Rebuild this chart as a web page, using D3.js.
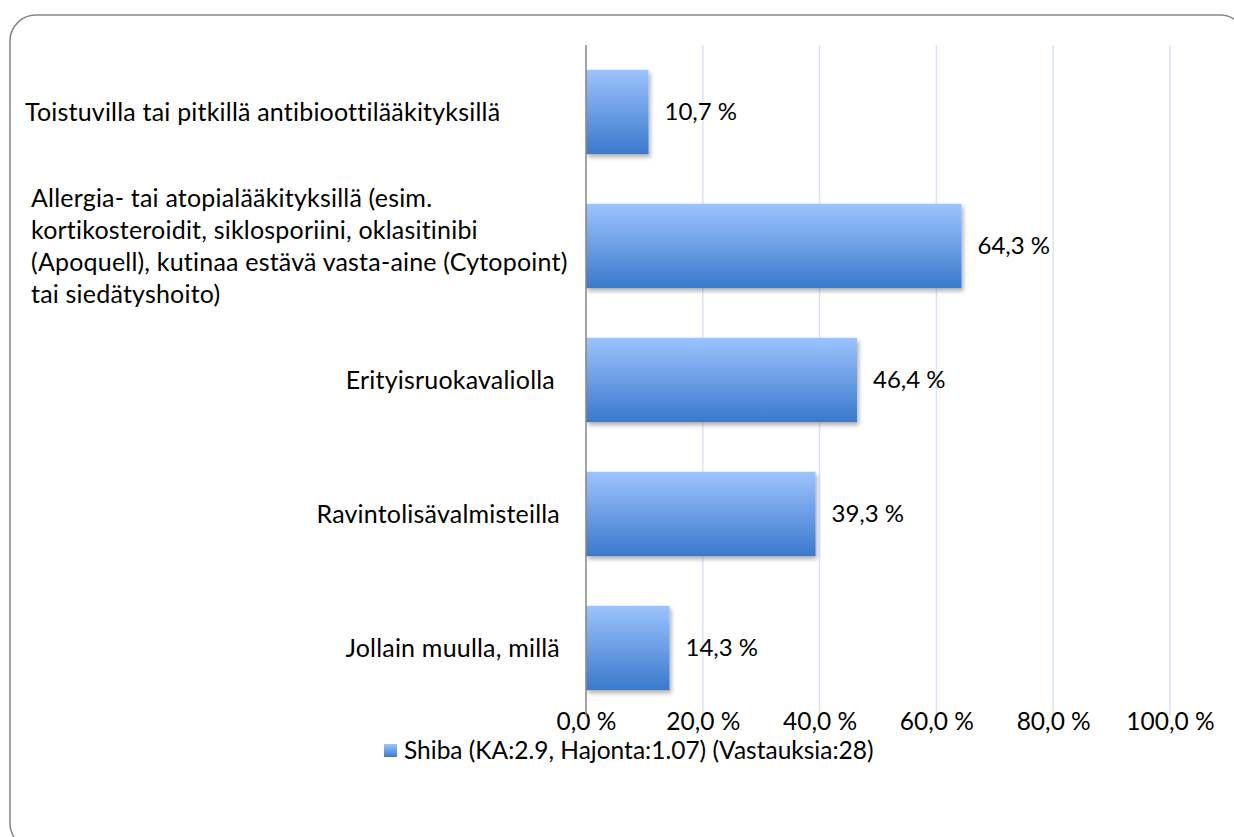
<!DOCTYPE html>
<html>
<head>
<meta charset="utf-8">
<script src="https://cdn.jsdelivr.net/npm/d3@7"></script>
<style>
  body { margin: 0; background: #fff; }
  svg text { font-family: Lato, "Open Sans", sans-serif; fill: #000; }
</style>
</head>
<body>
<div></div>
<script>
const width = 1234;
const height = 837;
const fontSize = 24.5;
const labelSize = 25;

// data
const categories = [
  "Toistuvilla tai pitkillä antibioottilääkityksillä",
  "Allergia- tai atopialääkityksillä (esim. kortikosteroidit, siklosporiini, oklasitinibi (Apoquell), kutinaa estävä vasta-aine (Cytopoint) tai siedätyshoito)",
  "Erityisruokavaliolla",
  "Ravintolisävalmisteilla",
  "Jollain muulla, millä",
];
const values = [10.7, 64.3, 46.4, 39.3, 14.3];
const tickValues = [0, 20, 40, 60, 80, 100];
const seriesName = "Shiba (KA:2.9, Hajonta:1.07) (Vastauksia:28)";

// how the long label is wrapped in the original
const wrappedLines = {
  1: [
    "Allergia- tai atopialääkityksillä (esim.",
    "kortikosteroidit, siklosporiini, oklasitinibi",
    "(Apoquell), kutinaa estävä vasta-aine (Cytopoint)",
    "tai siedätyshoito)",
  ],
};

const svg = d3
  .select("div")
  .append("svg")
  .attr("width", width)
  .attr("height", height);

const defs = svg.append("defs");
const grad = defs
  .append("linearGradient")
  .attr("id", "barGrad")
  .attr("x1", 0)
  .attr("y1", 0)
  .attr("x2", 0)
  .attr("y2", 1);
grad.append("stop").attr("offset", "0%").attr("stop-color", "#9dc3fd");
grad.append("stop").attr("offset", "100%").attr("stop-color", "#3a79cc");

const shadow = defs
  .append("filter")
  .attr("id", "shadow")
  .attr("x", "-10%")
  .attr("y", "-10%")
  .attr("width", "130%")
  .attr("height", "130%");
shadow
  .append("feDropShadow")
  .attr("dx", 2)
  .attr("dy", 3)
  .attr("stdDeviation", 2)
  .attr("flood-color", "#000")
  .attr("flood-opacity", 0.3);

// outer frame (cropped on right and bottom)
svg
  .append("rect")
  .attr("x", 10)
  .attr("y", 15)
  .attr("width", 1236)
  .attr("height", 834)
  .attr("rx", 26)
  .attr("fill", "none")
  .attr("stroke", "#868686")
  .attr("stroke-width", 1.5);

const x = d3.scaleLinear().domain([0, 100]).range([586, 1170]);
const y = d3
  .scaleBand()
  .domain(categories)
  .range([45, 715])
  .paddingInner(0.37)
  .paddingOuter(0.185);

// gridlines
svg
  .append("g")
  .selectAll("line")
  .data(tickValues.slice(1))
  .enter()
  .append("line")
  .attr("x1", (d) => x(d))
  .attr("x2", (d) => x(d))
  .attr("y1", 45)
  .attr("y2", 715)
  .attr("stroke", "#dbe5f1")
  .attr("stroke-width", 1.5);

// x axis labels
const xAxis = d3
  .axisBottom(x)
  .tickValues(tickValues)
  .tickSize(0)
  .tickPadding(0)
  .tickFormat((d) => d.toFixed(1).replace(".", ",") + " %");

const gx = svg.append("g").attr("transform", "translate(0,721)").call(xAxis);
gx.select(".domain").remove();
gx.selectAll("text")
  .attr("font-size", fontSize)
  .attr("font-family", null)
  .attr("dy", "0.35em")
  .attr("y", 0);

// bars
svg
  .append("g")
  .selectAll("rect")
  .data(values)
  .enter()
  .append("rect")
  .attr("x", x(0))
  .attr("y", (d, i) => y(categories[i]))
  .attr("width", (d) => x(d) - x(0))
  .attr("height", y.bandwidth())
  .attr("fill", "url(#barGrad)")
  .attr("filter", "url(#shadow)");

// value axis line
svg
  .append("line")
  .attr("x1", x(0))
  .attr("x2", x(0))
  .attr("y1", 45)
  .attr("y2", 715)
  .attr("stroke", "#868686")
  .attr("stroke-width", 1.5);

// data labels
svg
  .append("g")
  .selectAll("text")
  .data(values)
  .enter()
  .append("text")
  .attr("x", (d) => x(d) + 16)
  .attr("y", (d, i) => y(categories[i]) + y.bandwidth() / 2)
  .attr("dy", "0.35em")
  .attr("font-size", 24)
  .text((d) => d.toFixed(1).replace(".", ",") + " %");

// category labels
const labels = svg
  .append("g")
  .attr("font-size", labelSize)
  .attr("letter-spacing", 0.2);
categories.forEach((c, i) => {
  const cy = y(c) + y.bandwidth() / 2;
  if (wrappedLines[i]) {
    const lines = wrappedLines[i];
    const lh = 32;
    const t = labels.append("text").attr("x", 31);
    lines.forEach((l, k) => {
      t.append("tspan")
        .attr("x", 31)
        .attr("y", cy + (k - (lines.length - 1) / 2) * lh)
        .attr("dy", "0.35em")
        .text(l);
    });
  } else if (i === 0) {
    labels
      .append("text")
      .attr("x", 25)
      .attr("y", cy)
      .attr("dy", "0.35em")
      .text(c);
  } else {
    labels
      .append("text")
      .attr("x", i === 2 ? 555 : 560)
      .attr("y", cy)
      .attr("dy", "0.35em")
      .attr("text-anchor", "end")
      .text(c);
  }
});

// legend
const legend = svg.append("g").attr("id", "legend");
legend
  .append("rect")
  .attr("x", 384)
  .attr("y", 744)
  .attr("width", 13)
  .attr("height", 13)
  .attr("fill", "url(#barGrad)");
legend
  .append("text")
  .attr("x", 404)
  .attr("y", 750)
  .attr("dy", "0.35em")
  .attr("font-size", fontSize)
  .text(seriesName);
</script>
</body>
</html>
